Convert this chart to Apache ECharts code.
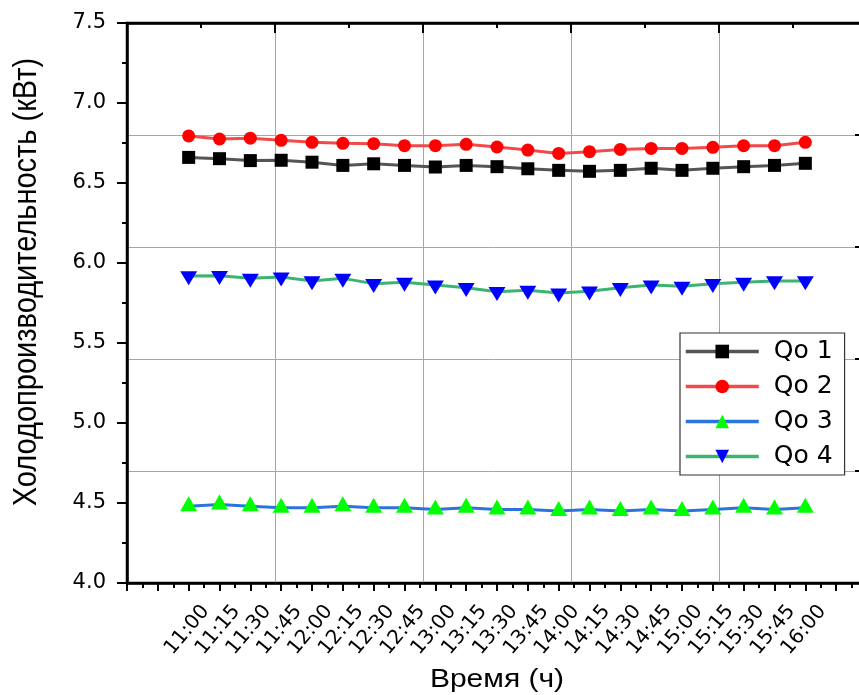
<!DOCTYPE html>
<html>
<head>
<meta charset="utf-8">
<script src="https://cdn.jsdelivr.net/npm/echarts@6/dist/echarts.min.js"></script>
<style>
html,body{margin:0;padding:0;background:#fff;}
#chart{width:859px;height:695px;}
</style>
</head>
<body>
<div id="chart"></div>
<script>
// ---- data ----
var times = ['11:00','11:15','11:30','11:45','12:00','12:15','12:30','12:45','13:00','13:15','13:30','13:45','14:00','14:15','14:30','14:45','15:00','15:15','15:30','15:45','16:00'];
var qo1 = [6.66, 6.652, 6.64, 6.642, 6.63, 6.61, 6.62, 6.61, 6.60, 6.61, 6.602, 6.589, 6.579, 6.573, 6.579, 6.592, 6.579, 6.592, 6.602, 6.61, 6.623];
var qo2 = [6.794, 6.775, 6.78, 6.767, 6.754, 6.748, 6.746, 6.733, 6.733, 6.742, 6.725, 6.706, 6.685, 6.696, 6.71, 6.716, 6.716, 6.723, 6.733, 6.733, 6.754];
var qo3 = [4.48, 4.49, 4.48, 4.47, 4.47, 4.48, 4.47, 4.47, 4.46, 4.47, 4.46, 4.46, 4.45, 4.46, 4.45, 4.46, 4.45, 4.46, 4.47, 4.46, 4.47];
var qo4 = [5.919, 5.921, 5.904, 5.912, 5.888, 5.904, 5.871, 5.879, 5.862, 5.846, 5.82, 5.829, 5.812, 5.823, 5.846, 5.862, 5.854, 5.871, 5.879, 5.888, 5.888];
var seriesNames = ['Qo 1','Qo 2','Qo 3','Qo 4'];
var yTitle = 'Холодопроизводительность (кВт)';
var xTitle = 'Время (ч)';
var PAD = 2; // empty steps before first / after last time on the axis

function pts(arr){ return arr.map(function(v,i){ return [i + PAD, v]; }); }

var chart = echarts.init(document.getElementById('chart'), null, {renderer:'canvas'});
var F = 'DejaVu Sans';
var gridColor = '#a6a6a6';
var nSteps = times.length - 1 + 2*PAD;
var noText = function(){ return ''; };

var option = {
  animation:false,
  grid:[
    {left:127, width:740, top:23, bottom:112, containLabel:false, outerBoundsMode:'none',
     show:true, borderColor:'#000', borderWidth:2.5, backgroundColor:'rgba(0,0,0,0)'},
    {left:144, width:740, top:23, bottom:112, containLabel:false, outerBoundsMode:'none'}
  ],
  xAxis:[
    {gridIndex:0, type:'value', position:'bottom', min:0, max:nSteps, interval:1,
     axisLine:{show:true, onZero:false, lineStyle:{color:'#000', width:2.5}},
     axisTick:{show:true, inside:false, length:8, lineStyle:{color:'#000', width:2}},
     minorTick:{show:true, splitNumber:2, length:5, lineStyle:{color:'#000', width:2}},
     axisLabel:{show:false}, splitLine:{show:false}},
    {gridIndex:0, type:'value', position:'top', min:0, max:5, interval:1,
     axisLine:{show:true, onZero:false, lineStyle:{color:'#000', width:2.5}},
     axisTick:{show:true, inside:true, length:10, lineStyle:{color:'#000', width:2}},
     minorTick:{show:true, splitNumber:2, length:5, lineStyle:{color:'#000', width:2}},
     axisLabel:{show:true, formatter:noText}, splitLine:{show:true, lineStyle:{color:gridColor, width:1}}},
    {gridIndex:1, type:'value', position:'bottom', min:0, max:nSteps, interval:1,
     axisLine:{show:false, onZero:false}, axisTick:{show:false}, splitLine:{show:false},
     axisLabel:{show:true, rotate:50, margin:25, fontFamily:F, fontSize:20, color:'#000',
       formatter:function(v){ var k = Math.round(v) - PAD; return (k>=0 && k<times.length) ? times[k] : ''; }}}
  ],
  yAxis:[
    {gridIndex:0, type:'value', position:'left', min:4, max:7.5, interval:0.5,
     axisLine:{show:true, onZero:false, lineStyle:{color:'#000', width:2.5}},
     axisTick:{show:true, inside:false, length:10, lineStyle:{color:'#000', width:2}},
     minorTick:{show:true, splitNumber:2, length:5, lineStyle:{color:'#000', width:2}},
     axisLabel:{margin:21, fontFamily:F, fontSize:21, color:'#000', formatter:function(v){return v.toFixed(1);}},
     splitLine:{show:false}},
    {gridIndex:0, type:'value', position:'right', min:0, max:5, interval:1,
     axisLine:{show:true, onZero:false, lineStyle:{color:'#000', width:2.5}},
     axisTick:{show:true, inside:true, length:12, lineStyle:{color:'#000', width:2}},
     minorTick:{show:true, splitNumber:2, length:6, lineStyle:{color:'#000', width:2}},
     axisLabel:{show:true, formatter:noText}, splitLine:{show:true, lineStyle:{color:gridColor, width:1}}},
    {gridIndex:1, type:'value', show:false, min:0, max:1}
  ],
  legend:{
    left:680, top:333, orient:'vertical',
    backgroundColor:'#fff', borderColor:'#333', borderWidth:1.2,
    padding:[6,12,6,4], itemGap:10, itemWidth:73, itemHeight:17,
    lineStyle:{width:3.5},
    textStyle:{fontFamily:F, fontSize:25, color:'#000', lineHeight:25, padding:[0,0,0,10]},
    data:seriesNames
  },
  series:[
    {name:seriesNames[0], type:'line', xAxisIndex:0, yAxisIndex:0, data:pts(qo1),
     symbol:'rect', symbolSize:13, color:'#000', itemStyle:{color:'#000'},
     lineStyle:{color:'#555', width:3}, z:3},
    {name:seriesNames[1], type:'line', xAxisIndex:0, yAxisIndex:0, data:pts(qo2),
     symbol:'circle', symbolSize:13, itemStyle:{color:'#ff0000'},
     lineStyle:{color:'#f24a4a', width:3}, z:3},
    {name:seriesNames[2], type:'line', xAxisIndex:0, yAxisIndex:0, data:pts(qo3),
     symbol:'triangle', symbolSize:[17,15], symbolOffset:[0,-2.5], itemStyle:{color:'#00ff00'},
     lineStyle:{color:'#2a74dc', width:3}, z:3},
    {name:seriesNames[3], type:'line', xAxisIndex:0, yAxisIndex:0, data:pts(qo4),
     symbol:'path://M0,0 L10,0 L5,8.5 Z', symbolSize:[17,14], symbolOffset:[0,2.3], itemStyle:{color:'#0000ff'},
     lineStyle:{color:'#3cb371', width:3}, z:3}
  ],
  graphic:[
    {type:'text', x:27, y:282, rotation:Math.PI/2, scaleY:1.15,
     style:{text:yTitle, font:'29px "Liberation Sans", Arial, sans-serif', fill:'#000', textAlign:'center', textVerticalAlign:'middle'}},
    {type:'text', x:497, y:680, scaleX:1.2,
     style:{text:xTitle, font:'25px "Liberation Sans", Arial, sans-serif', fill:'#000', textAlign:'center', textVerticalAlign:'middle'}}
  ]
};
chart.setOption(option);
</script>
</body>
</html>
